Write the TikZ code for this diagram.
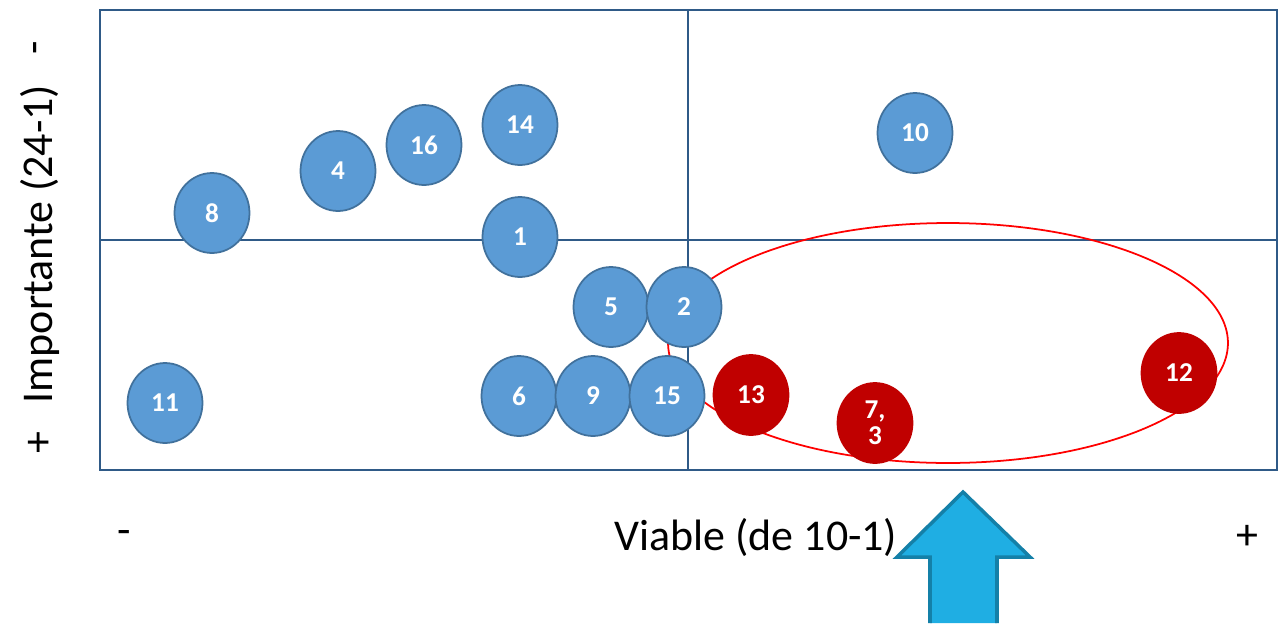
\documentclass[tikz,border=0pt]{standalone}
\usepackage{fontspec}
\setmainfont{Carlito}
\usetikzlibrary{shapes.geometric}
\definecolor{bubbleblue}{HTML}{5B9BD5}
\definecolor{bubbleedge}{HTML}{41719C}
\definecolor{bubblered}{HTML}{C00000}
\definecolor{gridblue}{HTML}{2F5A87}
\definecolor{arrowfill}{HTML}{1FAEE3}
\definecolor{arrowedge}{HTML}{1480A8}
\tikzset{
  bubble/.style={ellipse, draw=bubbleedge, line width=1pt, fill=bubbleblue, text=white,
    minimum width=1.5cm, minimum height=1.6cm, inner sep=0pt, align=center,
    font=\fontsize{15.5}{15}\selectfont\bfseries},
  redbubble/.style={bubble, draw=bubblered, fill=bubblered},
  axislabel/.style={font=\fontsize{25}{30}\selectfont}
}
\begin{document}
\begin{tikzpicture}[x=0.02cm, y=-0.02cm]
			\useasboundingbox (0,0) rectangle (1286,623);
			\draw[gridblue, line width=1.1pt] (100,10) rectangle (1277,470);
			\draw[gridblue, line width=0.8pt] (688,10) -- (688,470);
			\draw[gridblue, line width=0.8pt] (100,240) -- (1277,240);
			\draw[red, line width=1pt] (948,343) ellipse [x radius=5.6cm, y radius=2.4cm];
			\foreach \n/\x/\y in {8/212/213, 4/338/171, 16/424/145, 14/520/125, 1/520/237,
				10/915/133, 5/611/307, 2/684/307, 11/165/403, 6/519/396, 9/593/396, 15/667/396}
				\node[bubble] (b\n) at (\x,\y) {\n};
			\node[redbubble] (b13) at (751,395) {13};
			\node[redbubble] (b73) at (875,423) {7,\\3};
			\node[redbubble] (b12) at (1179,373) {12};
			\filldraw[fill=arrowfill, draw=arrowedge, line width=2pt]
				(930,623) -- (930,557) -- (897,557) -- (963,492) -- (1030,557) -- (997,557) -- (997,623);
			\node[axislabel] (xlabel) at (756,537) {Viable (de 10-1)};
			\node[axislabel] (xminus) at (124,537) {-};
			\node[axislabel] (xplus) at (1247,537) {+};
			\node[axislabel, rotate=90] (ylabel) at (40,244) {Importante (24-1)};
			\node[axislabel, rotate=90] (yminus) at (40,48) {-};
			\node[axislabel, rotate=90] (yplus) at (40,443) {+};
		\end{tikzpicture}
\end{document}
